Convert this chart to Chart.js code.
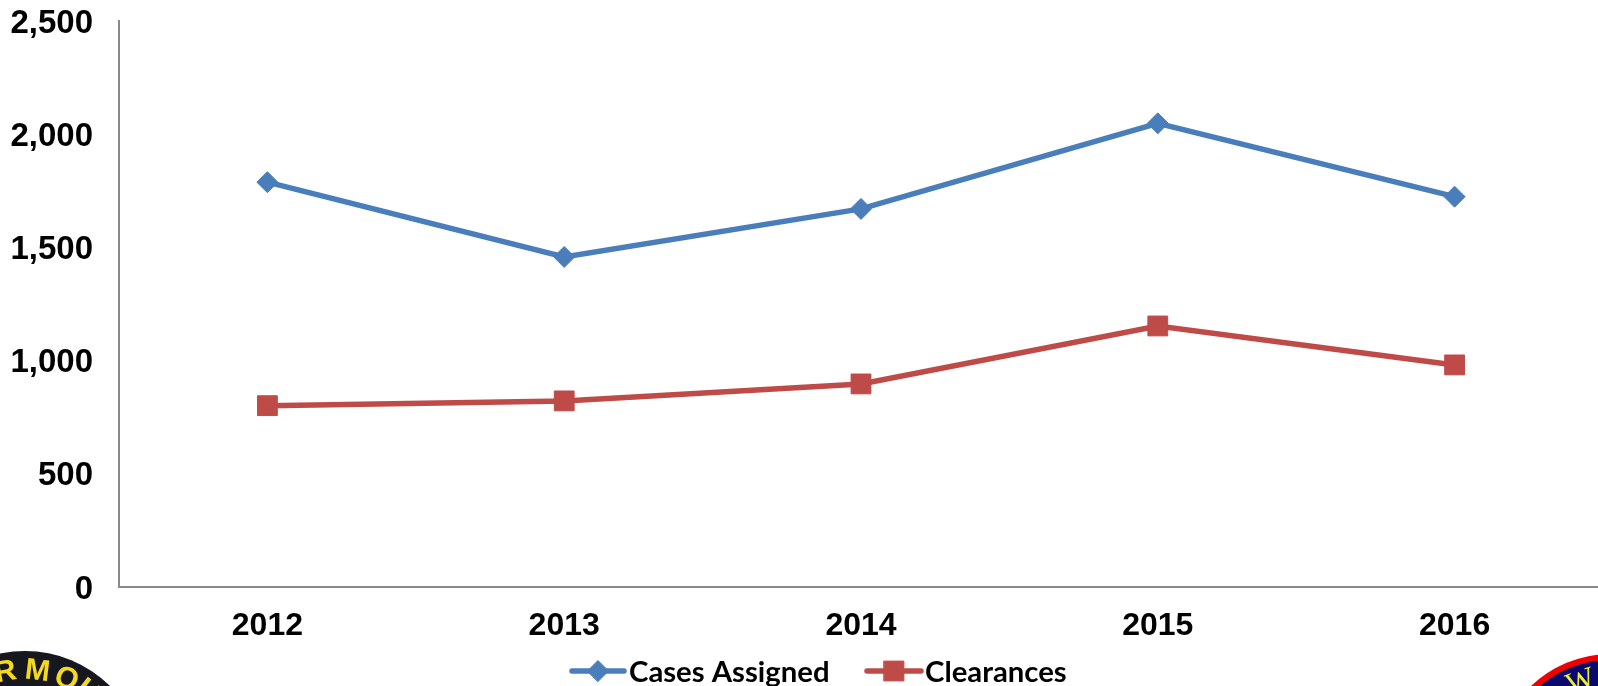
<!DOCTYPE html>
<html>
<head>
<meta charset="utf-8">
<title>Cases Assigned and Clearances</title>
<script src="https://cdn.jsdelivr.net/npm/chart.js@4"></script>
<style>
  html, body { margin: 0; padding: 0; background: #fff; overflow: hidden; }
  #wrap { width: 1598px; height: 686px; overflow: hidden; }
</style>
</head>
<body>
<!-- canvas is a little wider than the page, the plot's right end runs off the edge -->
<div id="wrap"><canvas id="chart" width="1603" height="686"></canvas></div>
<script>
const years = ["2012", "2013", "2014", "2015", "2016"];
const casesAssigned = [1788, 1458, 1670, 2048, 1724];
const clearances = [801, 822, 897, 1153, 981];

const BLUE = "#4a7ebb";
const RED = "#be4b48";
const AXIS = "#898989";

// letters around the rim of a badge, drawn one by one along its arc
function rimText(ctx, cx, cy, r, letters) {
  letters.forEach(([ch, deg]) => {
    ctx.save();
    ctx.translate(cx, cy);
    ctx.rotate((deg * Math.PI) / 180);
    ctx.fillText(ch, 0, -r);
    ctx.restore();
  });
}

// the two badges poking up from the bottom corners
const badges = {
  id: "badges",
  beforeDraw(chart) {
    const ctx = chart.ctx;
    ctx.save();
    ctx.textAlign = "center";
    ctx.textBaseline = "alphabetic";

    ctx.fillStyle = "#17171f";
    ctx.beginPath();
    ctx.arc(25, 772, 121, 0, Math.PI * 2);
    ctx.fill();
    ctx.fillStyle = "#f5d91e";
    ctx.font = "bold 30px 'Liberation Sans'";
    rimText(ctx, 25, 772, 93, [["R", -11], ["M", 7], ["O", 24], ["U", 38]]);

    ctx.fillStyle = "#f00000";
    ctx.beginPath();
    ctx.arc(1611, 770, 116, 0, Math.PI * 2);
    ctx.fill();
    ctx.fillStyle = "#0a0a6e";
    ctx.beginPath();
    ctx.arc(1611, 770, 110, 0, Math.PI * 2);
    ctx.fill();
    ctx.fillStyle = "#f0f032";
    ctx.font = "30px 'Liberation Serif'";
    rimText(ctx, 1611, 770, 85, [["W", -19], ["I", -5]]);
    ctx.restore();
  },
};

// legend row: short line with the series marker, then the name
const lineLegend = {
  id: "lineLegend",
  afterDraw(chart) {
    const ctx = chart.ctx;
    const y = 671;
    const entries = [
      { index: 0, from: 572, to: 624, textX: 629 },
      { index: 1, from: 867, to: 921, textX: 925 },
    ];
    ctx.save();
    entries.forEach((e) => {
      const ds = chart.data.datasets[e.index];
      ctx.strokeStyle = ds.borderColor;
      ctx.lineWidth = ds.borderWidth;
      ctx.lineCap = "round";
      ctx.beginPath();
      ctx.moveTo(e.from, y);
      ctx.lineTo(e.to, y);
      ctx.stroke();
      ctx.fillStyle = ds.pointBackgroundColor;
      ctx.strokeStyle = ds.pointBorderColor;
      ctx.lineWidth = 1;
      Chart.helpers.drawPoint(ctx, { pointStyle: ds.pointStyle, radius: ds.pointRadius, rotation: 0, borderWidth: 1 }, (e.from + e.to) / 2, y);
      ctx.fillStyle = "#000";
      ctx.font = "bold 29.3px Lato";
      ctx.textBaseline = "alphabetic";
      ctx.fillText(ds.label, e.textX, 682);
    });
    ctx.restore();
  },
};

// no room kept for overhanging labels
function noScalePadding(scale) {
  scale.paddingLeft = 0;
  scale.paddingRight = 0;
  scale.paddingTop = 0;
  scale.paddingBottom = 0;
}

new Chart(document.getElementById("chart"), {
  type: "line",
  data: {
    labels: years,
    datasets: [
      {
        label: "Cases Assigned",
        data: casesAssigned,
        borderColor: BLUE,
        borderWidth: 5.5,
        pointStyle: "rectRot",
        pointRadius: 10.5,
        pointBackgroundColor: BLUE,
        pointBorderColor: BLUE,
        pointBorderWidth: 1,
        tension: 0,
      },
      {
        label: "Clearances",
        data: clearances,
        borderColor: RED,
        borderWidth: 5.5,
        pointStyle: "rect",
        pointRadius: 14,
        pointBackgroundColor: RED,
        pointBorderColor: RED,
        pointBorderWidth: 1,
        tension: 0,
      },
    ],
  },
  options: {
    responsive: false,
    animation: false,
    layout: { autoPadding: false, padding: { top: 21, left: 0, right: 0, bottom: 0 } },
    plugins: {
      legend: { display: false },
      tooltip: { enabled: false },
    },
    scales: {
      x: {
        offset: true,
        afterFit: (scale) => {
          scale.height = 99;
          noScalePadding(scale);
        },
        grid: { display: false, drawTicks: false },
        border: { display: true, color: AXIS, width: 2 },
        ticks: {
          color: "#000",
          padding: 20,
          font: { family: "'Liberation Sans'", size: 32, weight: "bold" },
        },
      },
      y: {
        min: 0,
        max: 2500,
        afterFit: (scale) => {
          scale.width = 119;
          noScalePadding(scale);
        },
        grid: { display: false, drawTicks: false },
        border: { display: true, color: AXIS, width: 2 },
        ticks: {
          stepSize: 500,
          color: "#000",
          padding: 26,
          labelOffset: 2.5,
          font: { family: "'Liberation Sans'", size: 33, weight: "bold" },
          callback: (v) => v.toLocaleString("en-US"),
        },
      },
    },
  },
  plugins: [badges, lineLegend],
});
</script>
</body>
</html>
